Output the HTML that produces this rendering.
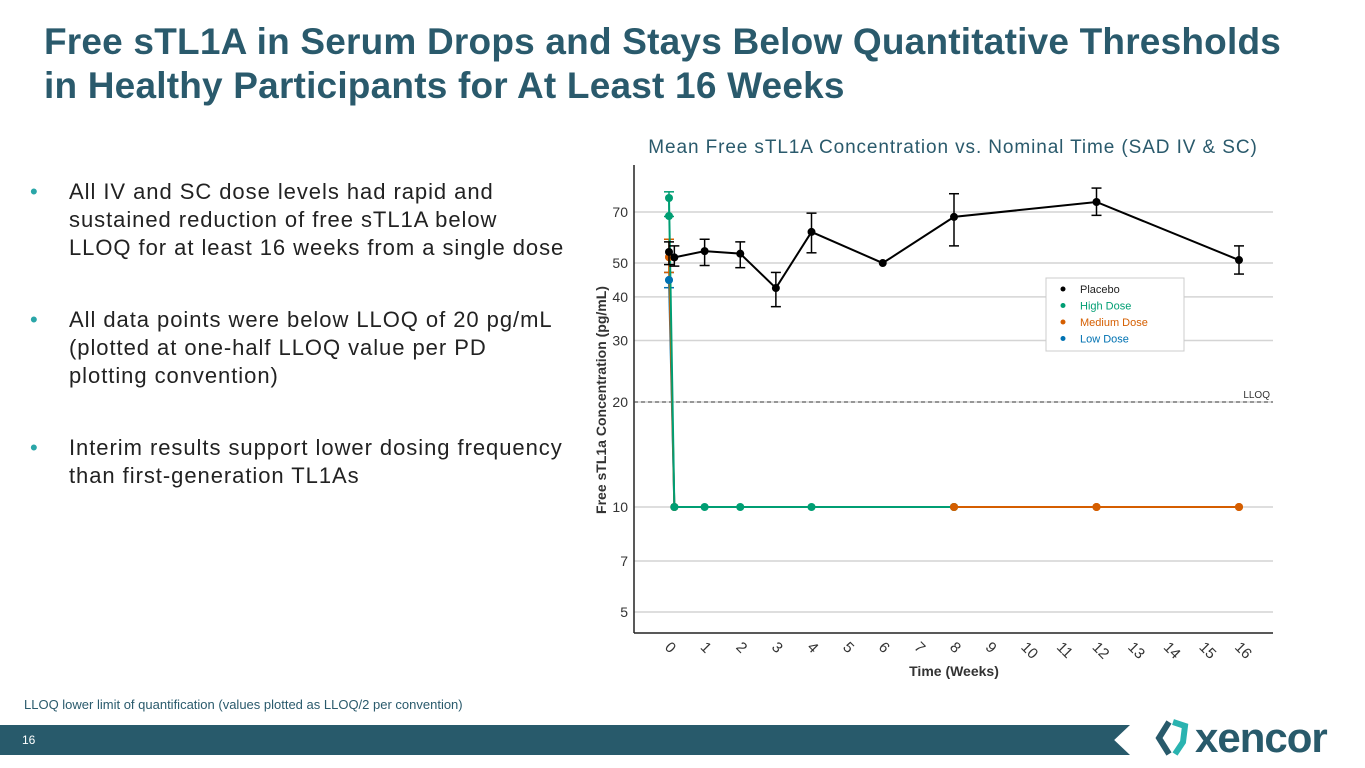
<!DOCTYPE html>
<html><head><meta charset="utf-8"><style>
body{margin:0;width:1365px;height:768px;background:#fff;font-family:"Liberation Sans",sans-serif;position:relative;overflow:hidden}
h1{position:absolute;left:44px;top:20px;margin:0;font-size:37px;line-height:44px;color:#2a5a6c;font-weight:bold;letter-spacing:0.2px;white-space:nowrap}
ul{position:absolute;left:30px;top:178px;margin:0;padding:0;list-style:none;width:560px}
li{position:relative;padding-left:39px;font-size:22px;letter-spacing:0.95px;line-height:28px;color:#222;margin-bottom:44px;white-space:nowrap}
li:before{content:"•";position:absolute;left:0;color:#2aa6a8}
.foot{position:absolute;left:24px;top:697px;font-size:13px;color:#2a5a6c}
.bar{position:absolute;left:0;top:725px;width:1130px;height:30px;background:#285a6b;clip-path:polygon(0 0,100% 0,98.6% 50%,100% 100%,0 100%)}
.pn{position:absolute;left:22px;top:733px;font-size:12px;color:#fff}
.logo{position:absolute;left:1195px;top:714px;font-size:42px;font-weight:bold;color:#285a6b;letter-spacing:-1px}
</style></head><body>
<h1>Free sTL1A in Serum Drops and Stays Below Quantitative Thresholds<br>in Healthy Participants for At Least 16 Weeks</h1>
<ul>
<li>All IV and SC dose levels had rapid and<br>sustained reduction of free sTL1A below<br>LLOQ for at least 16 weeks from a single dose</li>
<li>All data points were below LLOQ of 20 pg/mL<br>(plotted at one-half LLOQ value per PD<br>plotting convention)</li>
<li style="margin-top:2px">Interim results support lower dosing frequency<br>than first-generation TL1As</li>
</ul>
<div class="foot">LLOQ lower limit of quantification (values plotted as LLOQ/2 per convention)</div>
<div class="bar"></div>
<div class="pn">16</div>
<svg style="position:absolute;left:1155px;top:716px" width="42" height="46">
<path d="M14 6 L4 22 L14 38" stroke="#285a6b" stroke-width="6" fill="none"/><path d="M18 6 L30 10 L28 26 L20 38" stroke="#2ab3b0" stroke-width="6" fill="none"/></svg>
<div class="logo">xencor</div>
<svg id="chart" style="position:absolute;left:0;top:0" width="1365" height="768"></svg>
<script>
const tickVals=[5,7,10,20,30,40,50,70];
const weeks=[0,1,2,3,4,5,6,7,8,9,10,11,12,13,14,15,16];
const placeboT=[0,0.15,1,2,3,4,6,8,12,16];
const placeboV=[53.8,51.9,54.1,53.2,42.4,61.4,50,67.8,74.8,51];
const placeboLo=[49.5,49,49.2,48.5,37.5,53.5,50,56,68.5,46.5];
const placeboHi=[57.5,56,58.5,57.5,47,69.5,50,79,82,56];
const highT=[0,0.15,1,2,4,8];
const highV=[76.8,10,10,10,10,10];
const highT0Extra=[68.2];
const highLo=[68,10,10,10,10,10];
const highHi=[80,10,10,10,10,10];
const medT=[0,0.15,8,12,16];
const medV=[52,10,10,10,10];
const medLo=[47,10,10,10,10];
const medHi=[58.5,10,10,10,10];
const lowT=[0,0.15];
const lowV=[44.7,10];
const lowLo=[42.5,10];
const lowHi=[47,10];
const svg=document.getElementById('chart');const NS='http://www.w3.org/2000/svg';
function el(t,a,p){const e=document.createElementNS(NS,t);for(const k in a)e.setAttribute(k,a[k]);(p||svg).appendChild(e);return e;}
const X=w=>669+w*35.625;
const Y=v=>507-349*Math.log10(v/10);
const L=634,R=1273,T=165,B=633;
let t=el('text',{x:953,y:153,'text-anchor':'middle','font-size':19,fill:'#2a5a6c','letter-spacing':'0.9'});t.textContent='Mean Free sTL1A Concentration vs. Nominal Time (SAD IV & SC)';


tickVals.forEach(v=>{const g=el('line',{x1:L,x2:R,y1:Y(v),y2:Y(v),stroke:'#d4d4d4','stroke-width':1.5});


const tx=el('text',{x:628,y:Y(v)+5,'text-anchor':'end','font-size':14,fill:'#333'});tx.textContent=v;

});
el('line',{x1:L,x2:L,y1:T,y2:B,stroke:'#222','stroke-width':1.5});
el('line',{x1:L,x2:R,y1:B,y2:B,stroke:'#222','stroke-width':1.5});
weeks.forEach(w=>{const tx=el('text',{x:0,y:0,'font-size':15,fill:'#333',transform:`translate(${X(w)-5},${648}) rotate(45)`});tx.textContent=w;

});
t=el('text',{x:954,y:676,'text-anchor':'middle','font-size':14,'font-weight':'bold',fill:'#333'});t.textContent='Time (Weeks)';


t=el('text',{x:0,y:0,'text-anchor':'middle','font-size':14,'font-weight':'bold',fill:'#333',transform:'translate(606,400) rotate(-90)'});t.textContent='Free sTL1a Concentration (pg/mL)';


const ll=el('line',{x1:L,x2:R,y1:Y(20),y2:Y(20),stroke:'#444','stroke-dasharray':'4,3'});


t=el('text',{x:1270,y:Y(20)-4,'text-anchor':'end','font-size':10,fill:'#333'});t.textContent='LLOQ';


function series(name,Ts,Vs,Lo,Hi,c){
 const g=el('g',{});
 
 
 el('polyline',{points:Ts.map((w,i)=>X(w)+','+Y(Vs[i])).join(' '),fill:'none',stroke:c,'stroke-width':2},g);
 Ts.forEach((w,i)=>{if(Hi[i]!==Lo[i]){el('line',{x1:X(w),x2:X(w),y1:Y(Hi[i]),y2:Y(Lo[i]),stroke:c,'stroke-width':1.5},g);
 [Hi[i],Lo[i]].forEach(v=>el('line',{x1:X(w)-5,x2:X(w)+5,y1:Y(v),y2:Y(v),stroke:c,'stroke-width':1.5},g));}
 const p=el('circle',{cx:X(w),cy:Y(Vs[i]),r:4,fill:c},g);
 
 });
 return g;}
series('low-dose',lowT,lowV,lowLo,lowHi,'#0072b2');
series('medium-dose',medT,medV,medLo,medHi,'#d55e00');
series('high-dose',highT,highV,highLo,highHi,'#009e73');
highT0Extra.forEach(v=>{const p=el('circle',{cx:X(0),cy:Y(v),r:4,fill:'#009e73'});

});
const lastHigh=highT[highT.length-1];
const mIdx=medT.map((w,i)=>i).filter(i=>medT[i]>=lastHigh);
const mg=el('polyline',{points:mIdx.map(i=>X(medT[i])+','+Y(medV[i])).join(' '),fill:'none',stroke:'#d55e00','stroke-width':2});


mIdx.forEach(i=>{el('circle',{cx:X(medT[i]),cy:Y(medV[i]),r:4,fill:'#d55e00'});});
[[lowV[0],'#0072b2'],[medV[0],'#d55e00']].forEach(d=>el('circle',{cx:X(0),cy:Y(d[0]),r:4,fill:d[1]}));
series('placebo',placeboT,placeboV,placeboLo,placeboHi,'#000');
const lg=el('g',{});


el('rect',{x:1046,y:278,width:138,height:73,fill:'#fff',stroke:'#ccc'},lg);
[['Placebo','#000'],['High Dose','#009e73'],['Medium Dose','#d55e00'],['Low Dose','#0072b2']].forEach((d,i)=>{
 el('circle',{cx:1063,cy:289+i*16.5,r:2.5,fill:d[1]},lg);
 const tx=el('text',{x:1080,y:293+i*16.5,'font-size':11,fill:d[0]==='Placebo'?'#222':d[1]},lg);tx.textContent=d[0];
 
 });
</script>
</body></html>
